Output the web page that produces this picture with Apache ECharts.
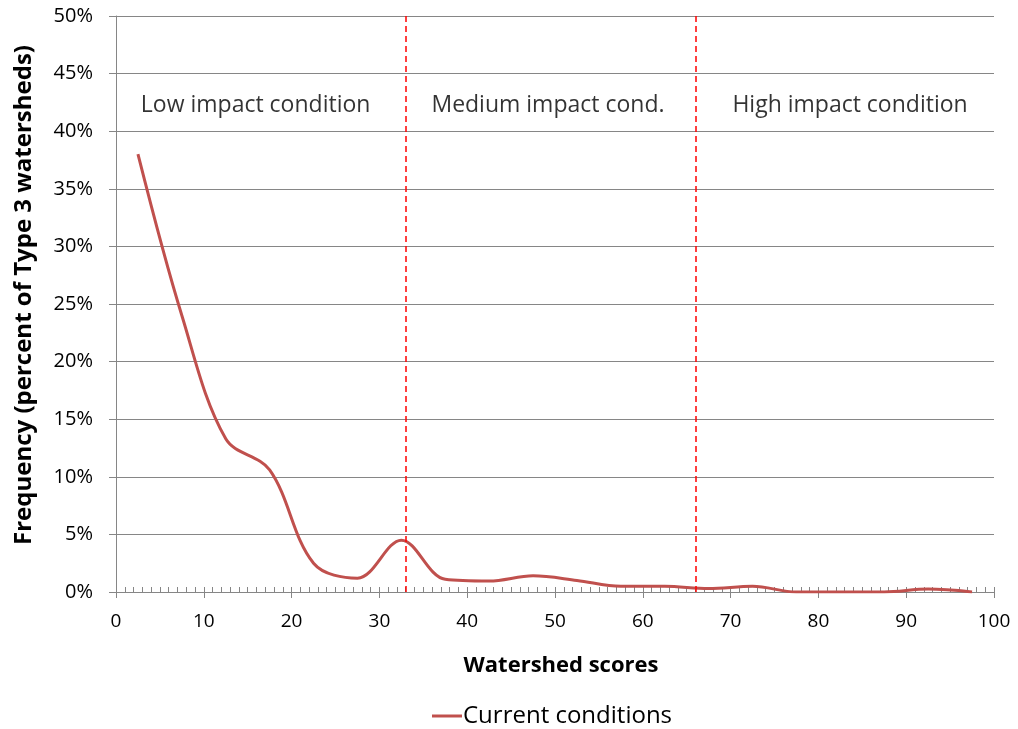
<!DOCTYPE html>
<html><head><meta charset="utf-8">
<script src="https://cdn.jsdelivr.net/npm/echarts@6/dist/echarts.min.js"></script>
<style>html,body{margin:0;padding:0;background:#fff}#c{width:1018px;height:729px}</style>
</head><body><div id="c"></div>
<script>
const scores = [2.5,7.5,12.5,17.5,22.5,27.5,32.5,37.5,42.5,47.5,52.5,57.5,62.5,67.5,72.5,77.5,82.5,87.5,92.5,97.5];
const currentConditions = [38,24,13.3,10.6,2.5,1.2,4.5,1.1,0.95,1.4,1.0,0.5,0.5,0.3,0.5,0,0,0,0.25,0];
const thresholds = [33,66];
const zoneNames = ['Low impact condition','Medium impact cond.','High impact condition'];
const zoneX = [15.9,49.2,83.6];
const zoneY = [42.2,42.2,42.2];
const seriesName = 'Current conditions';
const xTitle = 'Watershed scores';
const yTitle = 'Frequency (percent of Type 3 watersheds)';

const font = 'Open Sans';
const chart = echarts.init(document.getElementById('c'));
chart.setOption({
  animation:false,
  textStyle:{fontFamily:font},
  grid:{left:116,right:24,top:16,bottom:137,containLabel:false,outerBoundsMode:'none'},
  legend:{bottom:-4,left:427,itemWidth:30,itemHeight:3,itemGap:0,
    data:[{name:seriesName,icon:'rect'}],
    textStyle:{fontSize:24,color:'#000',fontFamily:font,padding:[0,0,0,-4]}},
  xAxis:[{type:'value',min:0,max:100,interval:10,
    name:xTitle,nameLocation:'middle',nameGap:63,
    nameTextStyle:{fontSize:22,fontWeight:'bold',color:'#000',fontFamily:font,padding:[0,0,0,12]},
    axisLine:{lineStyle:{color:'#868686',width:1}},
    axisTick:{show:true,length:6,lineStyle:{color:'#868686'}},
    axisLabel:{fontSize:19,color:'#000',margin:20,fontFamily:font},
    splitLine:{show:false}},
   {type:'value',min:0,max:100,interval:10,position:'bottom',
    axisLine:{show:false},
    axisTick:{show:true,inside:true,length:5,lineStyle:{color:'#868686'}},
    minorTick:{show:true,splitNumber:10,length:5,lineStyle:{color:'#868686'}},
    axisLabel:{show:false},splitLine:{show:false}}],
  yAxis:{type:'value',min:0,max:50,interval:5,
    name:yTitle,nameLocation:'middle',nameGap:80,nameRotate:90,
    nameTextStyle:{fontSize:24,fontWeight:'bold',color:'#000',fontFamily:font,padding:[0,0,0,18]},
    axisLine:{show:true,lineStyle:{color:'#868686'}},
    axisTick:{show:true,length:7,lineStyle:{color:'#868686'}},
    axisLabel:{fontSize:20,color:'#000',margin:23,formatter:'{value}%',fontFamily:font},
    splitLine:{lineStyle:{color:'#868686',width:1}}},
  series:[
   {name:seriesName,type:'line',smooth:0.35,symbol:'none',
    data:scores.map((s,i)=>[s,currentConditions[i]]),
    lineStyle:{color:'#C0504D',width:3},itemStyle:{color:'#C0504D'},
    markLine:{silent:true,symbol:'none',label:{show:false},
      lineStyle:{color:'#FF0000',type:[6,4],width:1.5},
      data:thresholds.map(t=>({xAxis:t}))},
    z:3},
   {name:'zones',type:'scatter',symbolSize:0,silent:true,
    data:zoneNames.map((n,i)=>({value:[zoneX[i],zoneY[i]],name:n})),
    label:{show:true,position:'inside',formatter:p=>p.name,fontSize:23,color:'#000',fontFamily:font}}
  ]
});
</script></body></html>
